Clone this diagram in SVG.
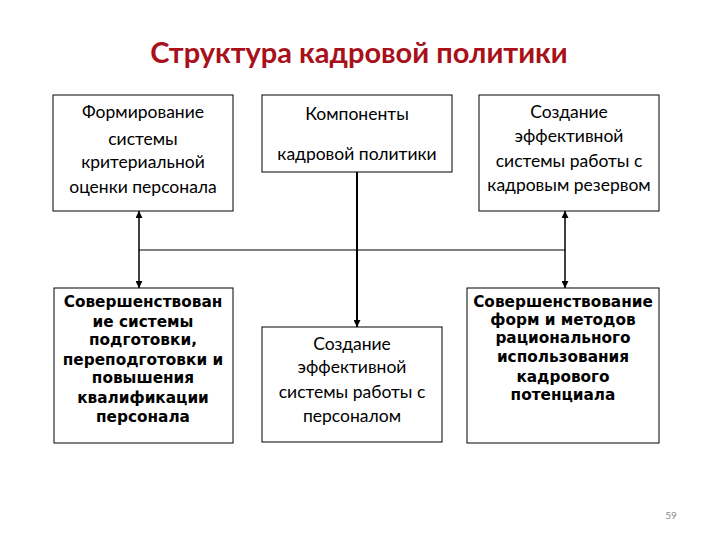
<svg xmlns="http://www.w3.org/2000/svg" width="720" height="540" viewBox="0 0 720 540">
<style>
.box{fill:#fff;stroke:#000;stroke-width:1}
.t{font-family:Lato,"Open Sans",sans-serif;font-size:17.5px;fill:#000;text-anchor:middle}
.b{font-family:"DejaVu Sans",Verdana,sans-serif;font-size:15.3px;font-weight:bold;fill:#000;text-anchor:middle}
.ln{stroke:#000;fill:none}
</style>
<defs>
<marker id="ah" viewBox="0 0 10 10" refX="10" refY="5" markerWidth="7" markerHeight="7" markerUnits="userSpaceOnUse" orient="auto">
<path d="M0,0 L10,5 L0,10 z" fill="#000"/>
</marker>
</defs>
<rect width="720" height="540" fill="#fff"/>
<text x="359" y="63" font-family="Lato,'Open Sans',sans-serif" font-size="29" font-weight="bold" fill="#A8101A" text-anchor="middle">Структура кадровой политики</text>
<g id="connectors">
<line class="ln" x1="139" y1="250" x2="565" y2="250" stroke-width="1"/>
<line class="ln" x1="357" y1="172" x2="357" y2="327" stroke-width="2" marker-end="url(#ah)"/>
<line class="ln" x1="139" y1="250" x2="139" y2="211" stroke-width="1.5" marker-end="url(#ah)"/>
<line class="ln" x1="139" y1="250" x2="139" y2="288" stroke-width="1.5" marker-end="url(#ah)"/>
<line class="ln" x1="565" y1="250" x2="565" y2="211" stroke-width="1.5" marker-end="url(#ah)"/>
<line class="ln" x1="565" y1="250" x2="565" y2="288" stroke-width="1.5" marker-end="url(#ah)"/>
</g>
<g id="n1">
<rect class="box" x="53" y="95" width="180" height="116"/>
<text class="t" x="143" y="118">Формирование</text>
<text class="t" x="143" y="145">системы</text>
<text class="t" x="143" y="168">критериальной</text>
<text class="t" x="143" y="193">оценки персонала</text>
</g>
<g id="n2">
<rect class="box" x="262" y="95" width="190" height="77"/>
<text class="t" x="357" y="120" font-size="20">Компоненты</text>
<text class="t" x="357" y="160" font-size="20">кадровой политики</text>
</g>
<g id="n3">
<rect class="box" x="479" y="95" width="180" height="116"/>
<text class="t" x="569" y="118">Создание</text>
<text class="t" x="569" y="142">эффективной</text>
<text class="t" x="569" y="167">системы работы с</text>
<text class="t" x="569" y="191">кадровым резервом</text>
</g>
<g id="n4">
<rect class="box" x="54" y="288" width="179" height="155"/>
<text class="b" x="143" y="307">Совершенствован</text>
<text class="b" x="143" y="327">ие системы</text>
<text class="b" x="143" y="345">подготовки,</text>
<text class="b" x="143" y="365">переподготовки и</text>
<text class="b" x="143" y="383">повышения</text>
<text class="b" x="143" y="403">квалификации</text>
<text class="b" x="143" y="422">персонала</text>
</g>
<g id="n5">
<rect class="box" x="262" y="327" width="180" height="115"/>
<text class="t" x="352" y="350">Создание</text>
<text class="t" x="352" y="373">эффективной</text>
<text class="t" x="352" y="398">системы работы с</text>
<text class="t" x="352" y="422">персоналом</text>
</g>
<g id="n6">
<rect class="box" x="467" y="288" width="192" height="155"/>
<text class="b" x="563" y="307">Совершенствование</text>
<text class="b" x="563" y="325">форм и методов</text>
<text class="b" x="563" y="343">рационального</text>
<text class="b" x="563" y="362">использования</text>
<text class="b" x="563" y="382">кадрового</text>
<text class="b" x="563" y="400">потенциала</text>
</g>
<text x="671" y="519" font-family="Lato,'Open Sans',sans-serif" font-size="10" fill="#888" text-anchor="middle">59</text>
</svg>
